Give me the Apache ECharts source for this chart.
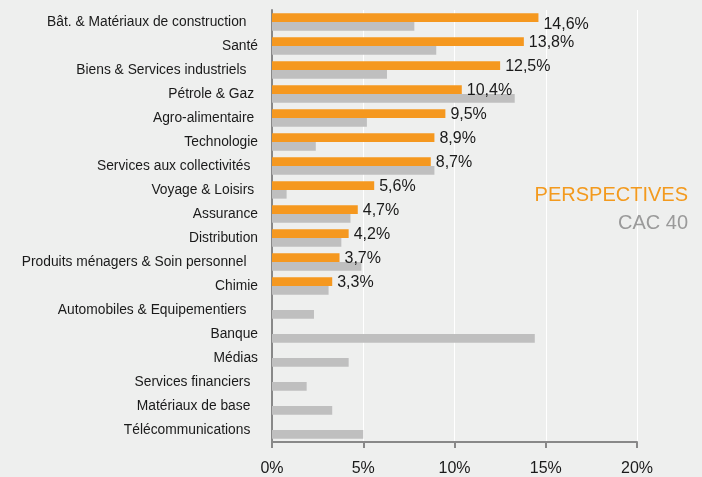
<!DOCTYPE html>
<html lang="fr">
<head>
    <meta charset="UTF-8">
    <title>Perspectives vs CAC 40</title>
    <script src="https://cdn.jsdelivr.net/npm/echarts@6/dist/echarts.min.js"></script>
    <style>
        html, body { margin: 0; padding: 0; background: #eeefee; }
    </style>
</head>
<body>
<div id="main" style="width: 702px;height:477px;"></div>
<script type="text/javascript">
    // secteurs (espaces de fin comme dans l'original)
    var categories = [
        'Bât. & Matériaux de construction   ',
        'Santé',
        'Biens & Services industriels   ',
        'Pétrole & Gaz ',
        'Agro-alimentaire ',
        'Technologie',
        'Services aux collectivités  ',
        'Voyage & Loisirs ',
        'Assurance',
        'Distribution',
        'Produits ménagers & Soin personnel   ',
        'Chimie',
        'Automobiles & Equipementiers   ',
        'Banque',
        'Médias',
        'Services financiers  ',
        'Matériaux de base  ',
        'Télécommunications  '
    ];
    var perspectives = [14.6, 13.8, 12.5, 10.4, 9.5, 8.9, 8.7, 5.6, 4.7, 4.2, 3.7, 3.3, null, null, null, null, null, null];
    var cac40 = [7.8, 9.0, 6.3, 13.3, 5.2, 2.4, 8.9, 0.8, 4.3, 3.8, 4.9, 3.1, 2.3, 14.4, 4.2, 1.9, 3.3, 5.0];
    var xTicks = [0, 5, 10, 15, 20];

    var myChart = echarts.init(document.getElementById('main'));

    // la première étiquette est décalée vers le bas
    var orangeData = perspectives.map(function (v, i) {
        if (i === 0) return { value: v, label: { offset: [0, 7] } };
        return v;
    });

    myChart.setOption({
        backgroundColor: '#eeefee',
        animation: false,
        grid: {
            left: 272,
            right: 65,
            top: 10,
            bottom: 33
        },
        legend: {
            orient: 'vertical',
            right: 4,
            top: 180,
            icon: 'none',
            itemWidth: 0,
            itemGap: 8,
            align: 'right',
            selectedMode: false,
            textStyle: { fontSize: 20, fontFamily: 'Liberation Sans, Arial, sans-serif' },
            data: [
                { name: 'PERSPECTIVES', textStyle: { color: '#f39a1e' } },
                { name: 'CAC 40', textStyle: { color: '#9a9a9a' } }
            ]
        },
        xAxis: {
            type: 'value',
            min: xTicks[0],
            max: xTicks[xTicks.length - 1],
            interval: 5,
            axisLine: { show: true, lineStyle: { color: '#888888', width: 2 } },
            axisTick: { show: true, length: 6, lineStyle: { color: '#888888', width: 2 } },
            axisLabel: {
                margin: 19,
                color: '#1a1a1a',
                fontSize: 16,
                fontFamily: 'Liberation Sans, Arial, sans-serif',
                formatter: function (v) { return v + '%'; }
            },
            splitLine: { show: true, lineStyle: { color: '#ffffff', width: 1 } }
        },
        yAxis: {
            type: 'category',
            inverse: true,
            data: categories,
            axisLine: { show: true, lineStyle: { color: '#888888', width: 2 } },
            axisTick: { show: false },
            axisLabel: {
                margin: 14,
                color: '#1a1a1a',
                fontSize: 13.8,
                fontFamily: 'Liberation Sans, Arial, sans-serif',
                interval: 0
            }
        },
        series: [{
            name: 'PERSPECTIVES',
            type: 'bar',
            data: orangeData,
            barGap: '0%',
            barCategoryGap: '28%',
            itemStyle: { color: '#f5981f' },
            label: {
                show: true,
                position: 'right',
                distance: 5,
                offset: [0, 1],
                color: '#1a1a1a',
                fontSize: 16,
                fontFamily: 'Liberation Sans, Arial, sans-serif',
                formatter: function (p) { return String(p.value).replace('.', ',') + '%'; }
            }
        }, {
            name: 'CAC 40',
            type: 'bar',
            data: cac40,
            barGap: '0%',
            barCategoryGap: '28%',
            itemStyle: { color: '#bfbfbf' }
        }]
    });
</script>
</body>
</html>
